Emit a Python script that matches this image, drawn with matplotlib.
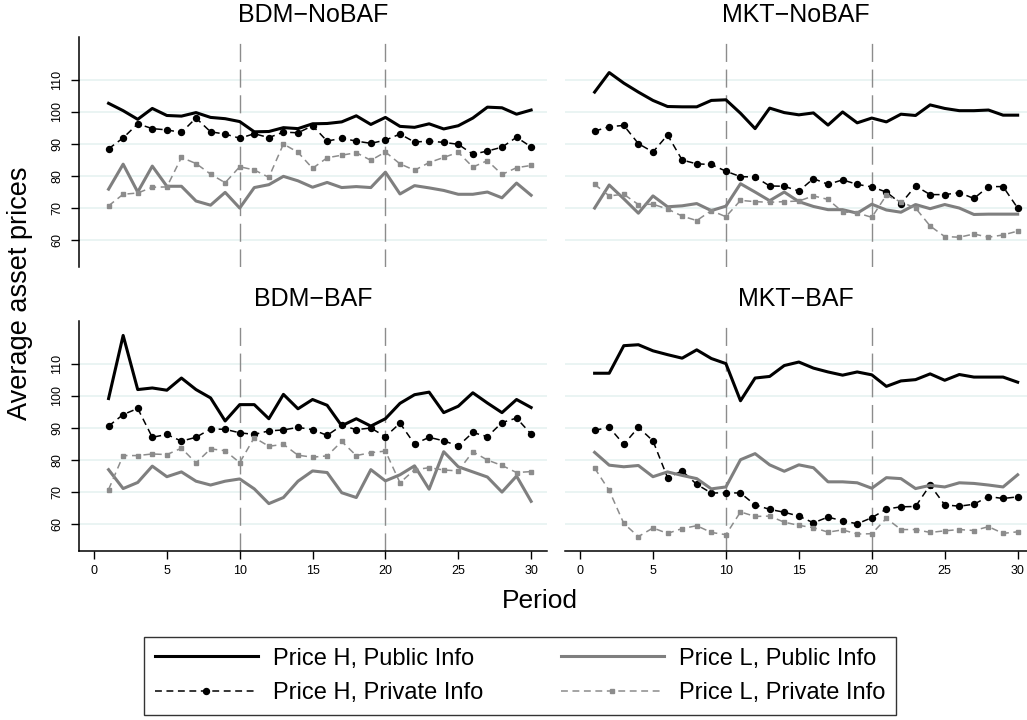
import matplotlib
matplotlib.use('Agg')
import matplotlib.pyplot as plt
from matplotlib.lines import Line2D

plt.rcParams['font.family'] = ['Liberation Sans', 'DejaVu Sans']

periods = list(range(1, 31))
panel_titles = ['BDM\u2212NoBAF', 'MKT\u2212NoBAF', 'BDM\u2212BAF', 'MKT\u2212BAF']
series_labels = ['Price H, Public Info', 'Price H, Private Info',
                 'Price L, Public Info', 'Price L, Private Info']
y_ticks = [60, 70, 80, 90, 100, 110]
x_ticks = [0, 5, 10, 15, 20, 25, 30]
phase_breaks = [10, 20]

# BDM - NoBAF
bdm_nobaf_h_pub = [102.7, 100.4, 97.7, 101.1, 98.9, 98.7, 99.8, 98.3, 97.9, 97.0, 93.8, 93.9, 95.1, 94.8, 96.3,
                   96.4, 96.9, 98.8, 96.1, 98.3, 95.5, 95.2, 96.3, 94.7, 95.7, 98.1, 101.5, 101.3, 99.3, 100.6]
bdm_nobaf_h_priv = [88.5, 91.9, 96.3, 94.8, 94.4, 93.6, 98.1, 93.8, 93.1, 91.8, 93.2, 92.0, 93.7, 93.5, 95.7,
                    90.9, 91.8, 90.9, 90.2, 91.2, 93.1, 90.6, 90.9, 90.5, 89.9, 86.8, 87.8, 89.0, 92.1, 89.1]
bdm_nobaf_l_pub = [75.9, 83.7, 75.0, 83.1, 76.8, 76.8, 72.2, 70.9, 74.9, 70.0, 76.4, 77.3, 79.9, 78.5, 76.5,
                   78.0, 76.4, 76.7, 76.4, 81.2, 74.4, 77.0, 76.3, 75.5, 74.3, 74.3, 75.0, 73.2, 77.8, 74.0]
bdm_nobaf_l_priv = [70.7, 74.3, 74.7, 76.5, 76.6, 85.8, 83.9, 80.6, 77.9, 82.9, 81.9, 79.6, 90.0, 87.4, 82.4,
                    85.7, 86.5, 87.3, 84.9, 87.5, 83.8, 81.8, 84.2, 85.8, 87.4, 82.8, 84.8, 80.5, 82.6, 83.3]

# MKT - NoBAF
mkt_nobaf_h_pub = [106.2, 112.3, 109.0, 106.2, 103.6, 101.7, 101.6, 101.6, 103.6, 103.8, 99.6, 94.8, 101.2, 99.8, 99.1,
                   99.7, 95.9, 100.0, 96.6, 98.1, 96.9, 99.3, 98.9, 102.2, 101.1, 100.4, 100.4, 100.6, 99.0, 99.0]
mkt_nobaf_h_priv = [94.0, 95.4, 95.8, 90.1, 87.5, 92.8, 85.0, 83.8, 83.6, 81.5, 79.8, 79.7, 76.9, 76.8, 75.3,
                    79.2, 77.4, 78.8, 77.4, 76.6, 75.0, 71.4, 76.9, 74.2, 74.2, 74.8, 73.0, 76.7, 76.7, 70.0]
mkt_nobaf_l_pub = [70.0, 77.2, 72.9, 68.4, 73.8, 70.4, 70.7, 71.4, 69.2, 70.6, 77.6, 75.0, 72.3, 75.0, 72.0,
                   70.5, 69.5, 69.5, 68.4, 71.2, 69.4, 68.7, 71.1, 69.8, 71.1, 70.0, 68.0, 68.1, 68.1, 68.1]
mkt_nobaf_l_priv = [77.4, 73.8, 74.3, 71.1, 71.2, 69.7, 67.5, 66.1, 69.2, 67.3, 72.4, 72.0, 71.8, 72.0, 72.2,
                    73.8, 72.7, 68.8, 68.5, 67.1, 74.0, 71.9, 70.0, 64.4, 61.1, 60.9, 61.9, 60.9, 61.6, 62.8]

# BDM - BAF
bdm_baf_h_pub = [99.1, 118.8, 101.9, 102.4, 101.7, 105.5, 101.9, 99.3, 92.1, 97.2, 97.2, 92.8, 100.4, 95.9, 98.8,
                 97.0, 90.6, 92.8, 90.5, 92.8, 97.6, 100.3, 101.1, 94.7, 96.7, 100.9, 97.7, 94.7, 98.8, 96.3]
bdm_baf_h_priv = [90.5, 94.1, 96.0, 87.0, 87.9, 85.8, 87.0, 89.6, 89.5, 88.4, 87.9, 89.0, 89.3, 90.1, 89.4,
                  87.6, 90.7, 89.4, 89.9, 87.2, 91.4, 84.9, 87.0, 85.9, 84.3, 88.5, 87.2, 91.6, 93.0, 88.0]
bdm_baf_l_pub = [76.9, 71.0, 72.9, 78.0, 74.7, 76.2, 73.3, 72.1, 73.3, 74.0, 70.9, 66.3, 68.2, 73.3, 76.5,
                 76.0, 69.7, 68.2, 76.9, 73.4, 75.3, 78.1, 70.8, 82.5, 77.8, 76.2, 74.6, 69.9, 74.9, 67.0]
bdm_baf_l_priv = [70.7, 81.3, 81.3, 81.8, 81.6, 83.6, 79.0, 83.4, 82.8, 79.1, 86.9, 84.2, 84.8, 81.4, 80.8,
                  81.2, 85.7, 81.3, 82.2, 82.7, 72.8, 76.9, 77.5, 76.8, 76.5, 82.5, 79.9, 78.2, 76.0, 76.3]

# MKT - BAF
mkt_baf_h_pub = [107.0, 107.0, 115.6, 115.9, 114.0, 112.8, 111.7, 114.3, 111.6, 110.0, 98.4, 105.5, 106.0, 109.4, 110.5,
                 108.6, 107.4, 106.4, 107.4, 106.5, 102.9, 104.6, 105.0, 106.8, 104.8, 106.6, 105.8, 105.8, 105.8, 104.2]
mkt_baf_h_priv = [89.2, 90.1, 84.8, 90.1, 85.9, 74.4, 76.5, 72.3, 69.6, 69.7, 69.6, 65.9, 64.5, 63.6, 62.4,
                  60.3, 62.1, 60.9, 60.0, 61.9, 64.6, 65.3, 65.4, 72.1, 65.9, 65.5, 66.1, 68.5, 67.9, 68.4]
mkt_baf_l_pub = [82.3, 78.3, 77.8, 78.2, 74.7, 76.2, 75.1, 74.1, 70.9, 71.5, 80.0, 81.9, 78.4, 76.4, 78.4,
                 77.5, 73.1, 73.1, 72.8, 71.1, 74.4, 74.1, 71.0, 72.0, 71.5, 72.8, 72.6, 72.1, 71.5, 75.3]
mkt_baf_l_priv = [77.4, 70.4, 60.1, 56.0, 58.7, 57.0, 58.5, 59.4, 57.3, 56.6, 63.7, 62.3, 62.4, 60.5, 59.5,
                  58.8, 57.4, 58.1, 56.8, 56.9, 61.7, 58.2, 58.2, 57.3, 57.8, 58.2, 57.9, 59.1, 57.0, 57.5]

panels = [
    (bdm_nobaf_h_pub, bdm_nobaf_h_priv, bdm_nobaf_l_pub, bdm_nobaf_l_priv),
    (mkt_nobaf_h_pub, mkt_nobaf_h_priv, mkt_nobaf_l_pub, mkt_nobaf_l_priv),
    (bdm_baf_h_pub, bdm_baf_h_priv, bdm_baf_l_pub, bdm_baf_l_priv),
    (mkt_baf_h_pub, mkt_baf_h_priv, mkt_baf_l_pub, mkt_baf_l_priv),
]

styles = [
    dict(color='black', lw=2.2, ls='-'),
    dict(color='black', lw=1.1, ls=(0, (4.5, 3)), marker='o', ms=4.3),
    dict(color='#7f7f7f', lw=2.2, ls='-'),
    dict(color='#8c8c8c', lw=1.1, ls=(0, (4.5, 3)), marker='s', ms=3.2),
]

W, H = 1027, 720
fig = plt.figure(figsize=(W / 100, H / 100), dpi=100)

# axes rectangles in pixels: left, top, right, bottom
rects = [(79, 37, 547, 267), (565, 37, 1027, 267),
         (79, 320.7, 547, 550.7), (565, 320.7, 1027, 550.7)]
xlims = [(-1.03, 31.09), (-1.03, 30.64), (-1.03, 31.09), (-1.03, 30.64)]

for i, (data, title) in enumerate(zip(panels, panel_titles)):
    l, t, r, b = rects[i]
    ax = fig.add_axes([l / W, 1 - b / H, (r - l) / W, (b - t) / H])
    for yv in y_ticks:
        ax.axhline(yv, color='#eaf4f3', lw=1.4, zorder=0)
    for xv in phase_breaks:
        ax.axvline(xv, color='#8c8c8c', lw=1.0, ls=(0, (13, 5.5)), zorder=1)
    for series, st in zip(data, styles):
        ax.plot(periods, series, zorder=3, **st)
    ax.set_xlim(*xlims[i])
    ax.set_ylim(51.6, 123.4)
    for s in ['top', 'right']:
        ax.spines[s].set_visible(False)
    left_col = i % 2 == 0
    bottom_row = i >= 2
    ax.spines['left'].set_visible(left_col)
    ax.spines['bottom'].set_visible(bottom_row)
    ax.spines['left'].set_linewidth(1.1)
    ax.spines['bottom'].set_linewidth(1.1)
    if left_col:
        ax.set_yticks(y_ticks)
        ax.set_yticklabels([str(v) for v in y_ticks], rotation=90, va='center', fontsize=9)
        ax.tick_params(axis='y', length=5.5, width=1.0, pad=6)
    else:
        ax.set_yticks([])
    if bottom_row:
        ax.set_xticks(x_ticks)
        ax.tick_params(axis='x', length=5.5, width=1.0, labelsize=9, pad=4.5)
    else:
        ax.set_xticks([])
    ax.text(0.5, 1.095, title, transform=ax.transAxes, ha='center', va='center', fontsize=18)

fig.text(20 / W, 1 - 293 / H, 'Average asset prices', rotation=90, ha='center', va='center', fontsize=19.5)
fig.text(540 / W, 1 - 601 / H, 'Period', ha='center', va='center', fontsize=19)

handles = [Line2D([], [], **st) for st in styles]
leg = fig.legend(handles, series_labels, ncol=2, loc='center',
                 bbox_to_anchor=(520 / W, 1 - 676 / H), fontsize=17,
                 handlelength=4.36, handletextpad=0.64, columnspacing=3.3,
                 labelspacing=0.55, numpoints=1, fancybox=False, borderpad=0.45)
leg.get_frame().set_edgecolor('black')
leg.get_frame().set_linewidth(1.0)

fig.savefig('out.png', dpi=100)
